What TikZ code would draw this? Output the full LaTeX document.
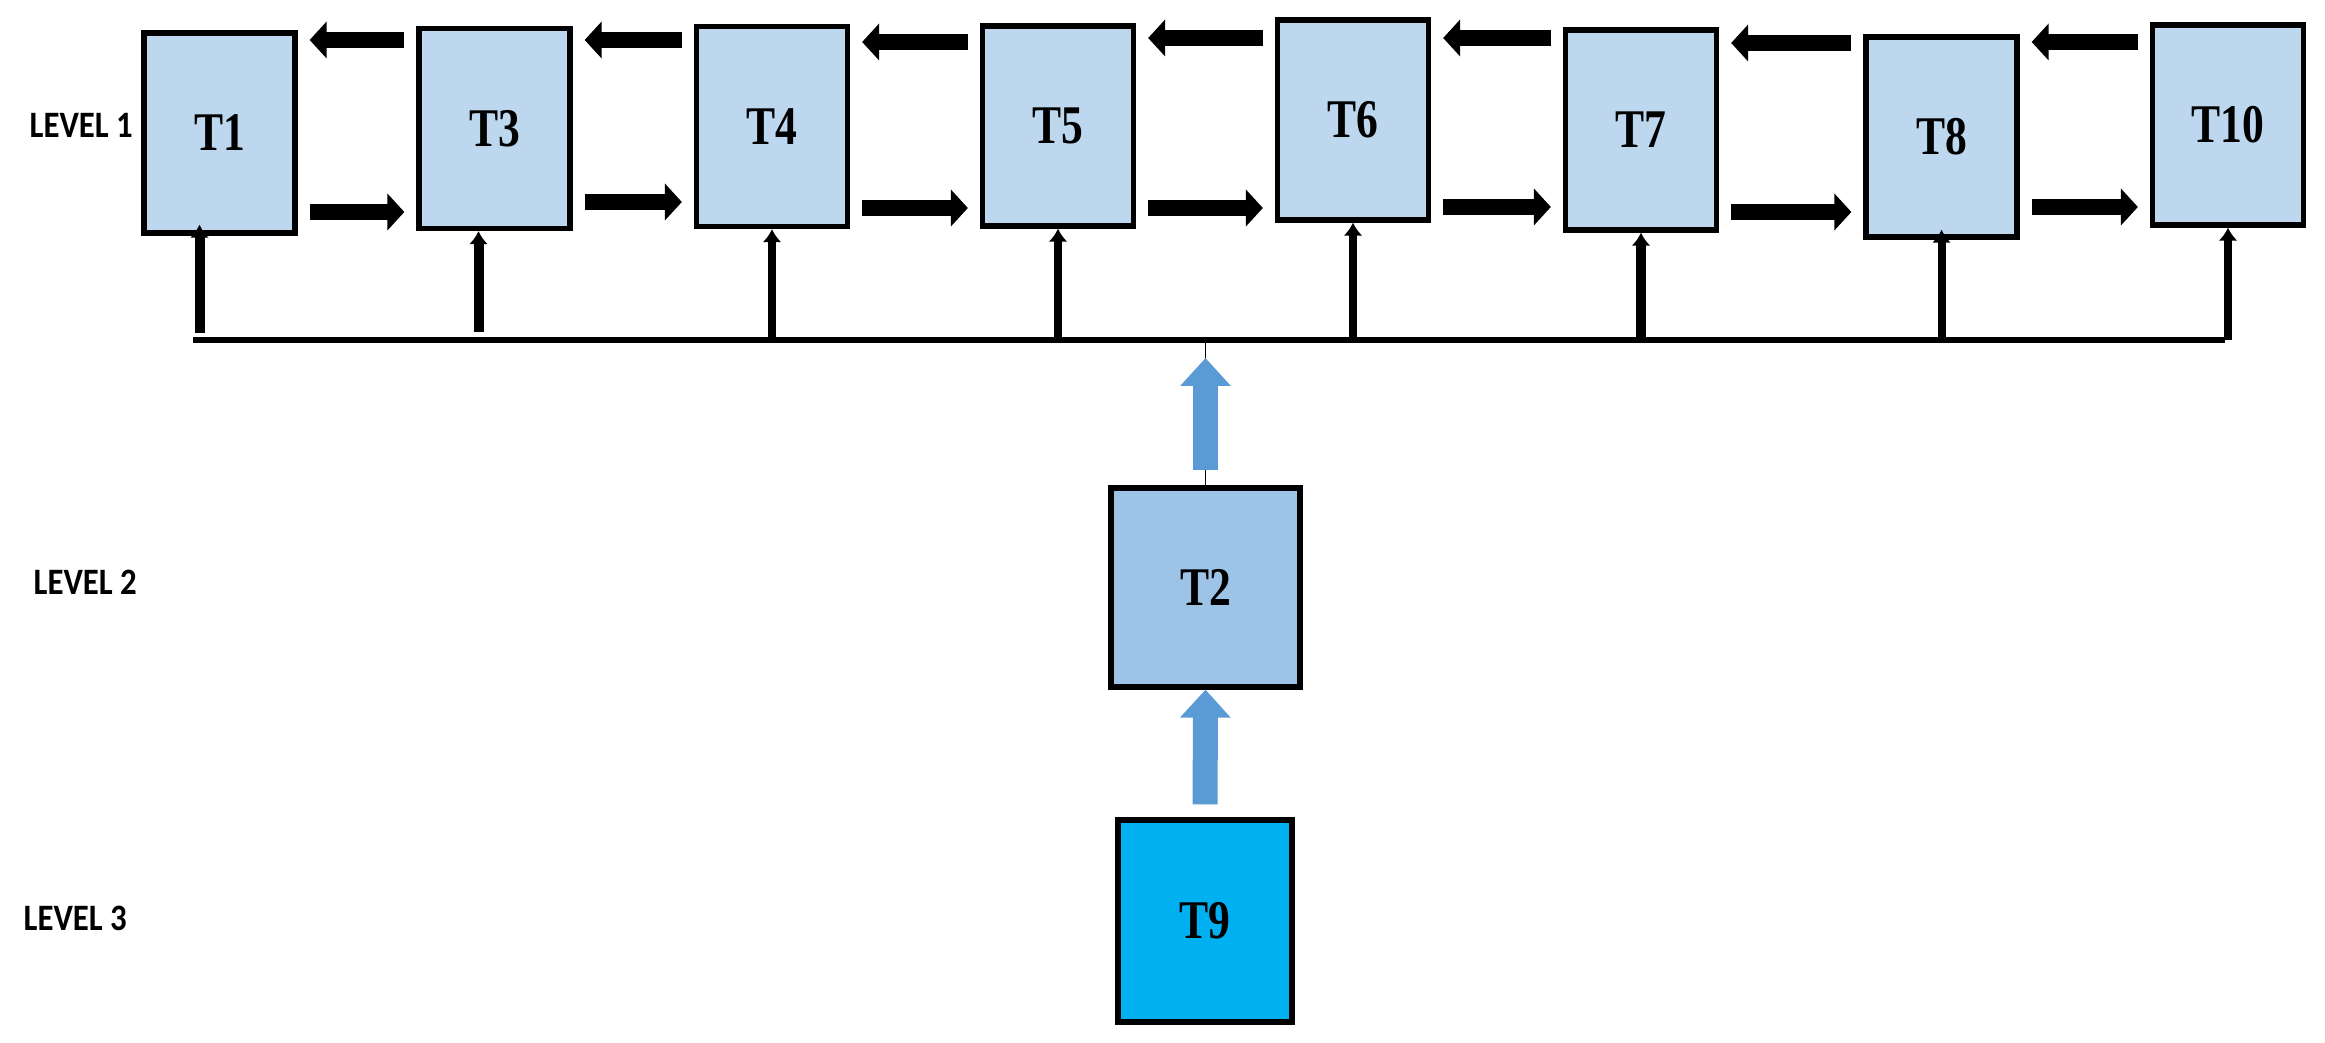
\documentclass[tikz,border=0pt]{standalone}
\usepackage{fontspec}
\usepackage{tikz}
\tikzset{>=latex}
\usetikzlibrary{arrows.meta}
\newfontfamily\taskfont{Liberation Serif}[FakeStretch=0.8]
\newfontfamily\levelfont{Carlito}[FakeStretch=0.88]
\definecolor{levelone}{HTML}{BDD7EE}
\definecolor{leveltwo}{HTML}{9DC3E6}
\definecolor{levelthree}{HTML}{00B0F0}
\definecolor{flowblue}{HTML}{5B9BD5}

\tikzset{
  task/.style={draw=black, line width=1.5pt, fill=levelone, minimum width=1.51cm,
    minimum height=2cm, inner sep=0pt, font=\taskfont\bfseries\fontsize{15.5}{17}\selectfont},
  level/.style={anchor=west, inner sep=0pt, font=\levelfont\bfseries\fontsize{10.6}{12}\selectfont},
  swap/.style={line width=1.6mm, -{Triangle[length=1.7mm,width=3.6mm]},
    shorten <=1.2mm, shorten >=1.2mm},
  feed/.style={line width=0.8mm, -{Latex[length=1.3mm,width=1.9mm]}},
  lift/.style={line width=2.5mm, flowblue, -{Triangle[length=2.8mm,width=4.9mm]}},
  bus/.style={line width=0.6mm}
}

\begin{document}
\begin{tikzpicture}
    \useasboundingbox (0,0) rectangle (23.25,-10.43);

    % level labels
    \node[level] (lev1) at (0.29,-1.25) {LEVEL 1};
    \node[level] (lev2) at (0.33,-5.82) {LEVEL 2};
    \node[level] (lev3) at (0.23,-9.18) {LEVEL 3};

    % level 1 tasks
    \node[task] (T1) at (2.195,-1.33) {T1};
    \node[task] (T3) at (4.945,-1.285) {T3};
    \node[task] (T4) at (7.72,-1.265) {T4};
    \node[task] (T5) at (10.58,-1.26) {T5};
    \node[task] (T6) at (13.53,-1.20) {T6};
    \node[task] (T7) at (16.41,-1.30) {T7};
    \node[task] (T8) at (19.415,-1.37) {T8};
    \node[task] (T10) at (22.28,-1.25) {T10};

    % lower levels
    \node[task, fill=leveltwo, minimum width=1.89cm, minimum height=1.99cm] (T2) at (12.055,-5.875) {T2};
    \node[task, fill=levelthree, minimum width=1.74cm, minimum height=2.02cm] (T9) at (12.05,-9.21) {T9};

    % shared line
    \coordinate (busL) at (1.93,-3.40);
    \coordinate (busR) at (22.25,-3.40);
    \draw[bus] (busL) -- (busR);

    % arrows to the left
    \draw[swap] (T3.west |- 0,-0.40) -- (T1.east |- 0,-0.40);
    \draw[swap] (T4.west |- 0,-0.40) -- (T3.east |- 0,-0.40);
    \draw[swap] (T5.west |- 0,-0.42) -- (T4.east |- 0,-0.42);
    \draw[swap] (T6.west |- 0,-0.38) -- (T5.east |- 0,-0.38);
    \draw[swap] (T7.west |- 0,-0.38) -- (T6.east |- 0,-0.38);
    \draw[swap] (T8.west |- 0,-0.43) -- (T7.east |- 0,-0.43);
    \draw[swap] (T10.west |- 0,-0.42) -- (T8.east |- 0,-0.42);

    % arrows to the right
    \draw[swap] (T1.east |- 0,-2.12) -- (T3.west |- 0,-2.12);
    \draw[swap] (T3.east |- 0,-2.02) -- (T4.west |- 0,-2.02);
    \draw[swap] (T4.east |- 0,-2.08) -- (T5.west |- 0,-2.08);
    \draw[swap] (T5.east |- 0,-2.08) -- (T6.west |- 0,-2.08);
    \draw[swap] (T6.east |- 0,-2.07) -- (T7.west |- 0,-2.07);
    \draw[swap] (T7.east |- 0,-2.12) -- (T8.west |- 0,-2.12);
    \draw[swap] (T8.east |- 0,-2.07) -- (T10.west |- 0,-2.07);

    % feeds from the shared line
    \draw[feed, line width=1mm, shorten >=-1.1mm] ([xshift=-2mm,yshift=-0.97cm]T1.south) -- ([xshift=-2mm]T1.south);
    \draw[feed, line width=1mm] ([xshift=-1.6mm,yshift=-1.01cm]T3.south) -- ([xshift=-1.6mm]T3.south);
    \draw[feed] (T4.south |- busL) -- (T4.south);
    \draw[feed] (T5.south |- busL) -- (T5.south);
    \draw[feed] (T6.south |- busL) -- (T6.south);
    \draw[feed, line width=1mm] (T7.south |- busL) -- (T7.south);
    \draw[feed, shorten >=-1mm] (T8.south |- busL) -- (T8.south);
    \draw[feed] (T10.south |- busL) -- (T10.south);

    % blue arrows
    \draw (T2.north) -- (T2.north |- busL);
    \draw[lift, shorten <=1.5mm, shorten >=1.8mm] (T2.north) -- (T2.north |- busL);
    \draw[lift, shorten <=1.3mm] (T9.north) -- (T2.south);
\end{tikzpicture}
\end{document}
